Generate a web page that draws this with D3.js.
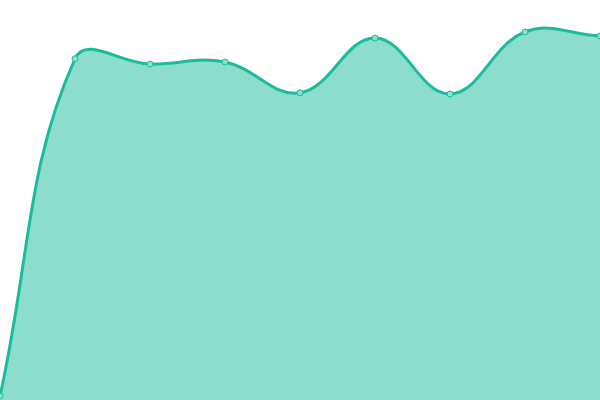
<!DOCTYPE html>
<html>
<head>
<meta charset="utf-8">
<script src="https://cdn.jsdelivr.net/npm/d3@7"></script>
<style>
  body { margin: 0; background: #fff; }
  svg { display: block; }
</style>
</head>
<body>
<svg id="chart" width="600" height="400"></svg>
<script>
// series values, one per evenly spaced step
let steps = [0, 1, 2, 3, 4, 5, 6, 7, 8];
let values = [1, 85.3, 84, 84.5, 76.8, 90.5, 76.5, 92, 91];

let svg = d3.select('#chart');
let w = 600, h = 400;

let x = d3.scaleLinear().domain([0, 8]).range([0, w]);
let y = d3.scaleLinear().domain([0, 100]).range([h, 0]);

let data = steps.map((s, i) => ({s: s, v: values[i]}));

// tension spline: control points scaled by neighbour distances, clamped to the plot box
function tensionCurve(t) {
    return function(context) {
        let c = {
            areaStart() { this._line = 0; },
            areaEnd() { this._line = NaN; },
            lineStart() { this._pts = []; },
            point(px, py) { this._pts.push([+px, +py]); },
            lineEnd() {
                let p = this._pts, n = p.length;
                if (n) {
                    if (this._line) context.lineTo(p[0][0], p[0][1]);
                    else context.moveTo(p[0][0], p[0][1]);
                    let cp = p.map((cur, i) => {
                        let prev = p[i - 1] || cur, next = p[i + 1] || cur;
                        let d01 = Math.hypot(cur[0] - prev[0], cur[1] - prev[1]);
                        let d12 = Math.hypot(next[0] - cur[0], next[1] - cur[1]);
                        let s01 = d01 / (d01 + d12) || 0, s12 = d12 / (d01 + d12) || 0;
                        let dx = next[0] - prev[0], dy = next[1] - prev[1];
                        let clamp = q => [Math.max(0, Math.min(w, q[0])), Math.max(0, Math.min(h, q[1]))];
                        return {
                            a: clamp([cur[0] - t * s01 * dx, cur[1] - t * s01 * dy]),
                            b: clamp([cur[0] + t * s12 * dx, cur[1] + t * s12 * dy])
                        };
                    });
                    for (let i = 0; i < n - 1; i++) {
                        context.bezierCurveTo(cp[i].b[0], cp[i].b[1], cp[i + 1].a[0], cp[i + 1].a[1], p[i + 1][0], p[i + 1][1]);
                    }
                }
                if (this._line || (this._line !== 0 && n === 1)) context.closePath();
                this._line = 1 - this._line;
            }
        };
        return c;
    };
}

let curve = tensionCurve(0.4);

let area = d3.area()
    .x(d => x(d.s))
    .y0(h)
    .y1(d => y(d.v))
    .curve(curve);

let line = d3.line()
    .x(d => x(d.s))
    .y(d => y(d.v))
    .curve(curve);

svg.append('path')
    .datum(data)
    .attr('d', area)
    .attr('fill', '#1abc9c')
    .attr('fill-opacity', 0.5);

svg.append('path')
    .datum(data)
    .attr('d', line)
    .attr('fill', 'none')
    .attr('stroke', '#1abc9c')
    .attr('stroke-width', 3);

svg.selectAll('circle.pt')
    .data(data)
    .enter().append('circle')
    .attr('class', 'pt')
    .attr('cx', d => x(d.s))
    .attr('cy', d => y(d.v))
    .attr('r', 3)
    .attr('fill', '#8ce0d0')
    .attr('stroke', '#1abc9c')
    .attr('stroke-width', 1);
</script>
</body>
</html>
